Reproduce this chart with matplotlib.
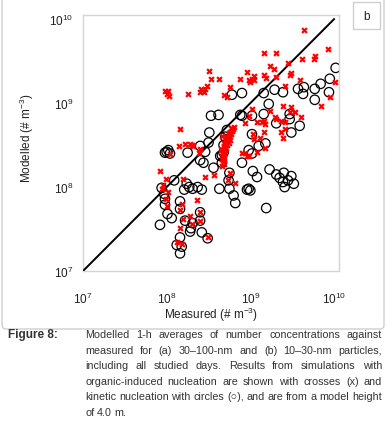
import matplotlib
matplotlib.use("Agg")
from matplotlib import pyplot as plt
from matplotlib import font_manager
from matplotlib.patches import FancyBboxPatch, Rectangle
import numpy as np

# kinetic nucleation (circles), log10 of measured / modelled
kin_meas = [10.02, 9.95, 9.94, 9.84, 9.77, 9.77, 9.64, 9.63, 9.57, 9.59, 9.49, 9.47, 9.47,
            9.39, 9.29, 9.31, 9.22, 9.16, 9.16, 9.18, 9.10, 9.02, 9.02, 8.90, 8.98, 9.02,
            8.90, 9.03, 9.08, 8.98, 8.96, 9.00, 8.90, 8.78, 8.88, 9.23, 9.31, 9.35, 9.40,
            9.39, 9.41, 9.49, 9.52, 9.45, 9.19, 8.80, 8.82, 8.74, 8.75, 8.75, 8.63, 8.56,
            8.50, 8.51, 8.62, 8.53, 8.64, 8.66, 8.68, 8.46, 8.40, 8.40, 8.44, 8.25, 8.27,
            8.31, 8.37, 8.42, 8.24, 8.00, 8.02, 7.98, 8.04, 7.94, 7.97, 7.98, 7.98, 8.01,
            8.06, 7.92, 8.09, 8.16, 8.16, 8.21, 8.22, 8.28, 8.29, 8.31, 8.40, 8.40, 8.42,
            8.49, 8.16, 8.18, 8.16, 8.12, 8.70, 8.68, 8.72, 8.66]
kin_mod = [9.42, 9.29, 9.13, 9.23, 9.17, 9.04, 9.19, 9.11, 9.17, 8.73, 8.65, 8.87, 8.81,
           9.13, 9.16, 8.76, 8.99, 9.12, 8.87, 8.52, 8.49, 8.85, 8.63, 8.85, 8.44, 8.40,
           8.29, 8.19, 8.12, 7.98, 7.97, 7.96, 9.12, 9.10, 8.86, 8.21, 8.15, 8.11, 8.17,
           8.06, 8.00, 8.13, 8.04, 8.08, 7.75, 7.90, 7.81, 8.08, 7.98, 8.17, 7.98, 8.23,
           8.53, 8.65, 8.86, 8.85, 8.37, 8.29, 8.41, 8.42, 8.49, 8.32, 8.29, 8.41, 8.00,
           7.98, 8.00, 7.97, 8.04, 8.42, 8.44, 8.41, 8.40, 7.99, 7.92, 7.86, 7.79, 7.68,
           7.63, 7.55, 8.08, 7.83, 7.74, 7.97, 7.60, 7.47, 7.51, 7.57, 7.70, 7.60, 7.46,
           7.39, 7.40, 7.29, 7.21, 7.31, 8.60, 8.50, 8.68, 8.38]

# organic-induced nucleation (crosses), log10 of measured / modelled
org_meas = [9.64, 9.93, 9.77, 9.76, 9.62, 9.16, 9.31, 9.23, 9.28, 9.45, 9.49, 9.47, 9.31,
            9.16, 9.19, 9.04, 9.02, 9.00, 8.96, 8.88, 8.98, 9.04, 9.59, 9.41, 10.01, 9.95,
            9.84, 9.49, 9.39, 9.47, 9.61, 9.53, 9.37, 9.41, 9.41, 9.37, 9.39, 9.29, 9.31,
            9.24, 9.16, 9.18, 9.14, 9.08, 9.16, 9.18, 9.12, 9.08, 8.98, 8.96, 8.94, 8.90,
            9.02, 8.98, 8.94, 9.03, 9.04, 8.66, 8.76, 8.68, 8.72, 8.51, 8.53, 8.63, 8.48,
            8.41, 8.40, 8.45, 8.46, 8.25, 8.02, 7.98, 8.01, 8.03, 8.16, 8.04, 8.15, 8.22,
            8.28, 8.30, 8.40, 8.39, 8.32, 8.76, 8.73, 8.82, 8.46, 8.56, 8.20, 7.92, 7.99,
            7.96, 7.94, 8.02, 7.99, 8.00, 8.18, 8.16, 8.20, 8.16, 8.12, 8.18, 8.28, 8.30,
            8.40, 8.40, 8.36, 8.50,
            8.80, 8.79, 8.78, 8.77, 8.76, 8.75, 8.77, 8.74, 8.73, 8.75, 8.72, 8.71, 8.73,
            8.70, 8.72, 8.69, 8.71, 8.68, 8.70, 8.67, 8.69, 8.66, 8.68, 8.67, 8.69, 8.66,
            8.68, 8.67, 8.69, 8.66, 8.74, 8.76, 8.71, 8.68, 8.65]
org_mod = [9.87, 9.64, 9.56, 9.53, 9.52, 9.60, 9.60, 9.44, 9.41, 9.48, 9.36, 9.33, 9.31,
           9.33, 9.30, 9.32, 9.29, 9.25, 9.37, 9.29, 9.28, 9.27, 9.27, 9.20, 9.25, 9.07,
           8.97, 8.95, 8.96, 8.89, 8.84, 8.89, 8.79, 8.77, 8.69, 8.66, 8.59, 8.83, 8.81,
           8.91, 8.79, 8.75, 8.77, 8.77, 8.66, 8.46, 8.59, 8.42, 8.37, 8.37, 8.41, 8.41,
           8.93, 8.85, 8.76, 8.63, 8.57, 8.61, 9.19, 9.10, 9.07, 9.38, 9.29, 9.29, 9.21,
           9.17, 9.13, 9.13, 9.17, 9.11, 9.15, 9.15, 9.11, 9.09, 8.69, 8.39, 8.49, 8.51,
           8.51, 8.50, 8.45, 8.41, 8.49, 8.17, 8.08, 8.05, 8.12, 8.14, 8.10, 8.19, 8.10,
           8.02, 7.98, 7.94, 7.86, 7.78, 7.80, 7.73, 7.62, 7.51, 7.35, 7.32, 7.65, 7.56,
           7.70, 7.60, 7.85, 7.41,
           8.71, 8.69, 8.67, 8.70, 8.66, 8.64, 8.63, 8.62, 8.60, 8.58, 8.57, 8.55, 8.54,
           8.52, 8.50, 8.49, 8.47, 8.46, 8.44, 8.43, 8.41, 8.40, 8.38, 8.36, 8.34, 8.33,
           8.31, 8.29, 8.27, 8.25, 8.52, 8.56, 8.60, 8.52, 8.45]

one_to_one = [1e7, 1e10]
xlim = [1e7, 10 ** 10.06]
ylim = [1e7, 10 ** 10.05]

caption_head = "Figure 8:"
caption_lines = [
    "Modelled 1-h averages of number concentrations against",
    "measured for (a) 30\u2013100-nm and (b) 10\u201330-nm particles,",
    "including all studied days. Results from simulations with",
    "organic-induced nucleation are shown with crosses (x) and",
    "kinetic nucleation with circles (\u25cb), and are from a model height",
    "of 4.0 m.",
]

names = {f.name for f in font_manager.fontManager.ttflist}
narrow = "Liberation Sans Narrow" if "Liberation Sans Narrow" in names else "Liberation Sans"
plt.rcParams["font.family"] = [narrow, "DejaVu Sans"]
plt.rcParams["mathtext.default"] = "regular"

W, H = 387, 435
fig = plt.figure(figsize=(W / 100, H / 100), dpi=100)

# outer frame and panel letter box
fig.patches.append(FancyBboxPatch((2 / W, 1 - 330 / H), 382 / W, 340 / H,
                                  boxstyle="round,pad=0,rounding_size=0.01",
                                  transform=fig.transFigure, fill=False,
                                  edgecolor="#cfcfcf", linewidth=1.0))
fig.patches.append(Rectangle((353 / W, 1 - 30 / H), 27 / W, 27 / H,
                             transform=fig.transFigure, fill=False,
                             edgecolor="#cfcfcf", linewidth=1.0))
fig.text(366.5 / W, 1 - 17 / H, "b", ha="center", va="center", fontsize=8.5, color="#222222")

ax = fig.add_axes([83 / W, 1 - 272 / H, 256 / W, 256 / H])
ax.set_xscale("log")
ax.set_yscale("log")
ax.scatter(10 ** np.array(kin_meas), 10 ** np.array(kin_mod), s=46, facecolors="none",
           edgecolors="black", linewidths=0.9, zorder=2)
ax.plot(one_to_one, one_to_one, color="black", linewidth=1.4, zorder=3)
ax.scatter(10 ** np.array(org_meas), 10 ** np.array(org_mod), s=12, marker="x",
           color="#ff0000", linewidths=1.6, zorder=4)
ax.set_xlim(xlim)
ax.set_ylim(ylim)
ax.minorticks_off()
ax.tick_params(length=0, labelsize=8.5, colors="#222222", pad=7)
ax.tick_params(axis="x", pad=14)
for sp in ax.spines.values():
    sp.set_color("#d4d4d4")
    sp.set_linewidth(1.0)

fig.text(211 / W, 1 - 315 / H, r"Measured (# m$^{-3}$)", ha="center", va="center",
         fontsize=8.5, color="#222222")
fig.text(27 / W, 1 - 138 / H, r"Modelled (# m$^{-3}$)", ha="center", va="center",
         rotation=90, fontsize=8.5, color="#222222")

# justified caption
fig.text(8 / W, 1 - 335 / H, caption_head, ha="left", va="center", fontsize=8.5,
         fontweight="bold", color="#333333")
fig.canvas.draw()
renderer = fig.canvas.get_renderer()
x_left, x_right = 85, 382

size = 9.0
while size > 6:
    probe = [fig.text(0, 0, w, fontsize=size) for l in caption_lines for w in l.split(" ")]
    fits = True
    k = 0
    for line in caption_lines:
        n = len(line.split(" "))
        tot = sum(t.get_window_extent(renderer).width for t in probe[k:k + n]) + 2.5 * (n - 1)
        k += n
        if tot > x_right - x_left:
            fits = False
    for t in probe:
        t.remove()
    if fits:
        break
    size -= 0.25

for i, line in enumerate(caption_lines):
    y = 1 - (335 + i * 15.6) / H
    words = line.split(" ")
    texts = [fig.text(0, y, w, ha="left", va="center", fontsize=size, color="#333333") for w in words]
    widths = [t.get_window_extent(renderer).width for t in texts]
    if i < len(caption_lines) - 1 and len(words) > 1:
        gap = (x_right - x_left - sum(widths)) / (len(words) - 1)
    else:
        gap = 2.6
    x = x_left
    for t, w in zip(texts, widths):
        t.set_x(x / W)
        x += w + gap

fig.savefig("out.png", dpi=100)
